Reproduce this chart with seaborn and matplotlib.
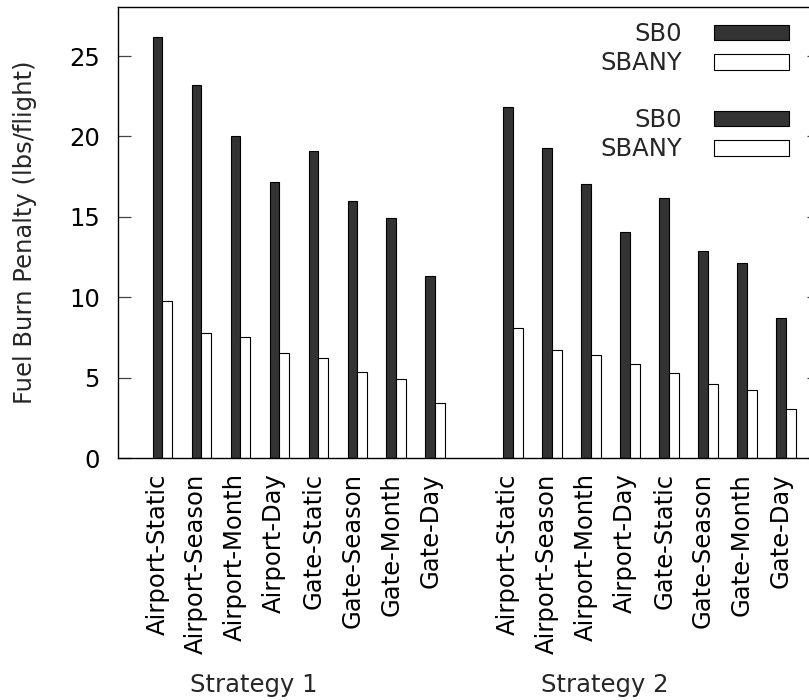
import matplotlib
matplotlib.use("Agg")
import matplotlib.pyplot as plt
import matplotlib.transforms as mtransforms
from matplotlib.patches import Patch
import numpy as np
import pandas as pd
import seaborn as sns

# ---- data -------------------------------------------------------------
configs = ["Airport-Static", "Airport-Season", "Airport-Month", "Airport-Day",
           "Gate-Static", "Gate-Season", "Gate-Month", "Gate-Day"]
strategies = ["Strategy 1", "Strategy 2"]
scenarios = ["SB0", "SBANY"]

s1_sb0 = [26.2, 23.2, 20.0, 17.15, 19.1, 16.0, 14.9, 11.35]
s1_sbany = [9.75, 7.75, 7.55, 6.5, 6.2, 5.35, 4.9, 3.45]
s2_sb0 = [21.8, 19.3, 17.05, 14.05, 16.2, 12.9, 12.15, 8.7]
s2_sbany = [8.1, 6.7, 6.4, 5.85, 5.3, 4.6, 4.2, 3.05]

# ---- long-form table ----------------------------------------------------
rows = []
series = {("Strategy 1", "SB0"): s1_sb0, ("Strategy 1", "SBANY"): s1_sbany,
          ("Strategy 2", "SB0"): s2_sb0, ("Strategy 2", "SBANY"): s2_sbany}
for gi, strat in enumerate(strategies):
    for ci, cfg in enumerate(configs):
        pos = gi * (len(configs) + 1) + ci
        for sc in scenarios:
            rows.append(dict(pos=pos, strategy=strat, config=cfg,
                             scenario=sc, value=series[(strat, sc)][ci]))
df = pd.DataFrame(rows)

# ---- figure ------------------------------------------------------------
sns.set_theme(style="white")
plt.rcParams["font.family"] = ["DejaVu Sans"]
FS = 17.5

W, H = 809, 700
fig = plt.figure(figsize=(W / 100, H / 100), dpi=100)
ax_l, ax_r, ax_t, ax_b = 118, 820, 7, 458
ax = fig.add_axes([ax_l / W, 1 - ax_b / H, (ax_r - ax_l) / W, (ax_b - ax_t) / H])

dark = "#333333"
palette = {"SB0": dark, "SBANY": "white"}
sns.barplot(data=df, x="pos", y="value", hue="scenario", hue_order=scenarios,
            palette=palette, native_scale=True, width=0.5, dodge=True,
            errorbar=None, edgecolor="black", linewidth=0.8, saturation=1,
            legend=False, ax=ax)

ax.set_xlim(-1.137, 16.87)
ax.set_ylim(0, 28.05)
ax.set_xlabel("")
ax.set_ylabel("")

# axes frame and ticks
for sp in ax.spines.values():
    sp.set_visible(True)
    sp.set_color("black")
    sp.set_linewidth(1.0)

ax.set_yticks([0, 5, 10, 15, 20, 25])
ax.tick_params(axis="y", which="major", direction="in", length=9.5, width=0.9,
               color="#444444", left=True, right=True, labelsize=FS, pad=13,
               labelcolor="black")

positions = sorted(df["pos"].unique())
labels = [df.loc[df["pos"] == p, "config"].iloc[0] for p in positions]
ax.set_xticks(positions)
ax.set_xticklabels(labels, rotation=90, ha="center", va="top", fontsize=FS)
ax.tick_params(axis="x", length=0, pad=11, labelcolor="black")
shift = mtransforms.ScaledTranslation(-5 / 100, 0, fig.dpi_scale_trans)
for lab in ax.get_xticklabels():
    lab.set_transform(lab.get_transform() + shift)

# group titles and y label
for gi, strat in enumerate(strategies):
    x_px = 254 + gi * 351
    fig.text(x_px / W, 1 - 685 / H, strat, ha="center", va="center", fontsize=FS)
fig.text(25 / W, 1 - 232.5 / H, "Fuel Burn Penalty (lbs/flight)", rotation=90,
         ha="center", va="center", fontsize=FS)

# one key per strategy block, text on the left of the sample
def make_key(anchor_y):
    handles = [Patch(facecolor=palette[s], edgecolor="black", linewidth=0.8)
               for s in scenarios]
    return ax.legend(handles, scenarios, loc="upper right",
                     bbox_to_anchor=(789 / W, 1 - anchor_y / H),
                     bbox_transform=fig.transFigure, frameon=False,
                     markerfirst=False, fontsize=FS, handlelength=3.1,
                     handleheight=0.62, handletextpad=1.3, labelspacing=0.22,
                     borderpad=0, borderaxespad=0)

leg1 = make_key(22)
ax.add_artist(leg1)
leg2 = make_key(108)

fig.savefig("out.png", dpi=100)
